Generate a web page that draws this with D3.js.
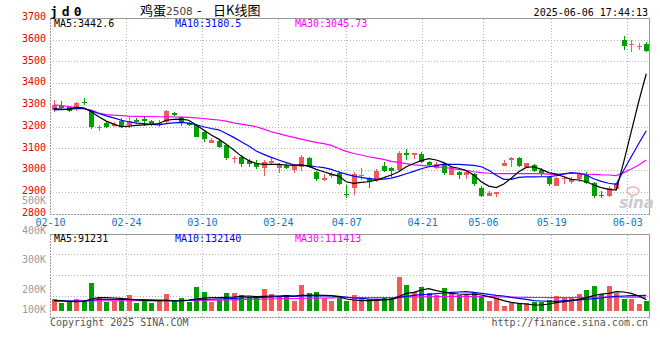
<!DOCTYPE html>
<html><head><meta charset="utf-8">
<script src="https://cdn.jsdelivr.net/npm/d3@7"></script>
<style>body{margin:0;background:#fff}svg{display:block}</style>
</head><body>
<script>
const dates = ["02-10","02-11","02-12","02-13","02-14","02-17","02-18","02-19","02-20","02-21","02-24","02-25","02-26","02-27","02-28",
"03-03","03-04","03-05","03-06","03-07","03-10","03-11","03-12","03-13","03-14","03-17","03-18","03-19","03-20","03-21","03-24","03-25","03-26","03-27","03-28","03-31",
"04-01","04-02","04-03","04-07","04-08","04-09","04-10","04-11","04-14","04-15","04-16","04-17","04-18","04-21","04-22","04-23","04-24","04-25","04-28","04-29","04-30",
"05-06","05-07","05-08","05-09","05-12","05-13","05-14","05-15","05-16","05-19","05-20","05-21","05-22","05-23","05-26","05-27","05-28","05-29","05-30",
"06-03","06-04","06-05","06-06"];
const open  = [3275,3294,3288,3283,3314,3272,3195,3214,3202,3226,3207,3229,3234,3226,3214,3222,3260,3245,3217,3207,3176,3122,3135,3115,3051,3061,3043,3034,3007,3034,3007,3023,3000,3015,3056,2992,2954,2972,2985,2890,2916,2974,2963,2951,3020,3008,3000,3080,3067,3073,3038,3007,3023,2977,2992,2977,2981,2916,2882,2888,3020,3046,3056,3012,3023,3000,2966,2928,2958,2946,2957,2977,2942,2885,2882,2912,3600,3577,3569,3578];
const close = [3298,3287,3272,3306,3306,3199,3199,3196,3210,3199,3226,3219,3226,3206,3218,3272,3254,3222,3206,3153,3141,3137,3104,3053,3055,3027,3027,3012,3038,3041,3027,3011,3020,3058,3015,2958,2965,2981,2935,2885,2981,2977,2943,2997,2995,2995,3080,3069,3080,3038,3023,3027,2985,3015,2977,2992,2935,2882,2893,2900,3034,3054,3018,3030,2997,2981,2935,2965,2962,2958,2981,2942,2882,2881,2916,2939,3569,3580,3572,3548];
const high  = [3321,3317,3290,3314,3332,3275,3207,3222,3222,3237,3242,3237,3245,3228,3229,3278,3266,3248,3222,3211,3184,3145,3140,3117,3066,3069,3049,3046,3046,3058,3034,3030,3027,3069,3061,2997,2981,2992,2997,2931,2992,3007,2969,3003,3038,3015,3089,3096,3080,3084,3043,3038,3030,3018,2997,3000,2988,2926,2905,2900,3046,3058,3061,3034,3027,3008,2972,2969,2972,2966,2992,2992,2946,2905,2926,2942,3615,3597,3582,3588];
const low   = [3268,3275,3265,3272,3298,3188,3180,3194,3199,3191,3191,3214,3202,3204,3196,3214,3248,3202,3202,3150,3130,3122,3100,3047,3034,3015,3015,3003,2972,3023,2988,3006,2988,2997,3008,2951,2951,2962,2931,2870,2885,2954,2919,2946,2989,2969,2997,3046,3049,3034,3015,3003,2977,2977,2958,2958,2926,2877,2882,2874,3020,3015,3015,3007,2992,2969,2928,2928,2935,2935,2946,2935,2873,2870,2877,2912,3554,3543,3554,3543];
const ma5  = [3282,3280,3279,3288,3286,3268,3245,3225,3211,3199,3202,3205,3208,3210,3214,3229,3233,3234,3229,3207,3184,3161,3142,3119,3092,3064,3043,3030,3026,3026,3026,3023,3021,3024,3018,3003,2992,2981,2972,2946,2939,2943,2946,2954,2965,2977,2992,3015,3030,3043,3052,3046,3034,3015,3008,2997,2977,2946,2926,2919,2936,2962,2992,3012,3015,3003,2988,2981,2969,2957,2954,2946,2931,2919,2911,2908,3037,3177,3315,3442.6];
const ma10 = [3277,3278,3280,3282,3282,3272,3260,3249,3240,3229,3222,3216,3213,3210,3208,3213,3217,3219,3216,3208,3199,3191,3185,3168,3150,3130,3110,3087,3072,3058,3046,3034,3024,3021,3020,3015,3011,3003,2991,2981,2972,2966,2960,2957,2958,2963,2972,2983,2994,3006,3015,3020,3027,3026,3026,3024,3021,3015,2999,2976,2957,2957,2966,2968,2968,2969,2969,2974,2981,2988,2985,2977,2960,2948,2939,2934,2999,3061,3122,3180.5];
const ma30 = [3300,3296,3292,3287,3283,3276,3262,3255,3252,3250,3248,3247,3246,3246,3245,3245,3244,3243,3242,3240,3237,3233,3230,3225,3217,3211,3205,3199,3188,3176,3167,3158,3150,3142,3134,3127,3121,3113,3099,3086,3076,3069,3061,3055,3049,3040,3035,3029,3024,3021,3018,3015,3012,3007,3003,2998,2992,2988,2985,2983,2983,2983,2983,2983,2983,2983,2981,2980,2983,2985,2983,2981,2980,2978,2977,2974,2988,3005,3023,3045.73];
const volume = [96000,66000,80000,96000,88000,226000,112000,74000,80000,106000,128000,66000,88000,66000,88000,138000,82000,104000,74000,192000,154000,74000,86000,146000,146000,128000,112000,120000,176000,138000,120000,128000,82000,210000,146000,154000,102000,82000,102000,80000,128000,94000,94000,88000,106000,102000,272000,208000,154000,190000,142000,128000,184000,142000,128000,128000,154000,114000,82000,102000,40000,66000,58000,62000,74000,74000,88000,120000,102000,102000,138000,168000,200000,136000,200000,146000,96000,96000,56000,80000];
const volMa5 = [85000,83000,77000,75000,77000,96000,107000,107000,104000,101000,93000,88000,85000,83000,83000,85000,80000,83000,88000,96000,104000,107000,107000,109000,112000,117000,120000,115000,117000,120000,120000,123000,120000,125000,125000,128000,125000,123000,115000,96000,88000,83000,83000,85000,88000,93000,115000,141000,149000,168000,179000,163000,152000,141000,136000,133000,136000,128000,115000,101000,83000,69000,61000,56000,48000,48000,56000,67000,75000,83000,93000,107000,123000,136000,141000,155000,152000,141000,120000,91231];
const volMa10 = [80000,80000,80000,80000,80000,84000,93000,93000,93000,93000,93000,92000,91000,90000,88000,85000,83000,83000,85000,90000,93000,94000,96000,99000,101000,104000,107000,107000,109000,112000,115000,117000,117000,120000,120000,120000,120000,120000,117000,112000,104000,101000,96000,93000,93000,93000,109000,117000,125000,131000,133000,139000,144000,149000,152000,155000,149000,141000,133000,125000,120000,109000,101000,93000,83000,80000,77000,77000,83000,85000,88000,93000,99000,104000,112000,117000,120000,123000,123000,125000];
const volMa30 = [80000,80000,80000,81000,81000,81000,82000,82000,82000,82000,82000,82000,82000,83000,83000,83000,83000,83000,84000,85000,86000,86000,87000,88000,89000,91000,92000,94000,95000,96000,98000,99000,100000,101000,102000,103000,104000,105000,106000,107000,107000,107000,107000,107000,108000,108000,110000,111000,112000,113000,114000,115000,116000,117000,117000,117000,116000,115000,114000,113000,112000,111000,110000,109000,108000,108000,107000,107000,107000,108000,109000,110000,111000,112000,112000,112000,111000,111000,111000,111413];
const priceTicks = [2800,2900,3000,3100,3200,3300,3400,3500,3600,3700];
const volTicks = [100000,200000,300000,400000,500000];
const dateTicks = ["02-10","02-24","03-10","03-24","04-07","04-21","05-06","05-19","06-03"];

const W = 660, H = 360;
const L = 50, R = 650;
const RED = "#f25a5a", GREEN = "#00a000";
const MONO = "'DejaVu Sans Mono', 'Liberation Mono', monospace";

const svg = d3.select("body").append("svg").attr("width", W).attr("height", H)
  .style("font-family", MONO);

const idx = d3.range(dates.length);
const xBand = d3.scaleBand().domain(idx).range([L, R]);
const xGrid = d3.scalePoint().domain(idx).range([L, R]);
const cx = i => Math.round(xBand(i) + xBand.bandwidth() / 2) + 0.5;
const y = d3.scaleLinear().domain([2800, 3700]).range([213.5, 17.8]);
const yVol = d3.scaleLinear().domain([0, 616000]).range([311, 234]);
const yVolLab = d3.scaleLinear().domain([200000, 500000]).range([292.7, 204]);
const px = v => Math.round(v) + 0.5;

const mainTop = px(y(3700)), mainBot = px(y(2800));
const volTop = 234.5, volBot = 317.5;

// ---- grids ----
const grid = svg.append("g").attr("stroke", "#b4b4b4").attr("stroke-dasharray", "1,2").attr("shape-rendering", "crispEdges");
priceTicks.filter(v => v > 2800 && v < 3700).forEach(v => {
  grid.append("line").attr("x1", L).attr("x2", R).attr("y1", px(y(v))).attr("y2", px(y(v)));
});
dateTicks.slice(1).forEach(d => {
  const x = px(xGrid(dates.indexOf(d)));
  grid.append("line").attr("x1", x).attr("x2", x).attr("y1", mainTop).attr("y2", mainBot + 3);
  grid.append("line").attr("x1", x).attr("x2", x).attr("y1", volTop).attr("y2", volBot + 3);
});
[0.25, 0.5, 0.75].forEach(f => {
  const yy = px(volTop + (volBot - volTop) * f - 1);
  grid.append("line").attr("x1", L).attr("x2", R).attr("y1", yy).attr("y2", yy);
});

// ---- frames ----
function frame(t, b) {
  const g = svg.append("g").attr("stroke", "#9a9a9a").attr("shape-rendering", "crispEdges").attr("fill", "none");
  g.append("line").attr("x1", L).attr("x2", R).attr("y1", t).attr("y2", t);
  g.append("line").attr("x1", R - 0.5).attr("x2", R - 0.5).attr("y1", t).attr("y2", b);
  g.append("line").attr("x1", L).attr("x2", R).attr("y1", b).attr("y2", b).attr("stroke-dasharray", "2,1");
  g.append("line").attr("x1", L + 0.5).attr("x2", L + 0.5).attr("y1", t).attr("y2", b).attr("stroke-dasharray", "2,1");
}
frame(mainTop, mainBot);
frame(volTop, volBot);

// ---- watermark ----
const wm = svg.append("g");
wm.append("ellipse").attr("cx", 633).attr("cy", 191).attr("rx", 6).attr("ry", 4)
  .attr("fill", "none").attr("stroke", "#f3b3b3").attr("stroke-width", 1.5);
wm.append("text").attr("x", 619).attr("y", 208).text("sina")
  .attr("font-family", "'DejaVu Sans', sans-serif").attr("font-weight", "bold").attr("font-style", "italic")
  .attr("font-size", 15).attr("fill", "#cbcbcb");

// ---- candles ----
const bw = 5;
const cg = svg.append("g").attr("shape-rendering", "crispEdges");
idx.forEach(i => {
  const up = close[i] >= open[i];
  const col = up ? RED : GREEN;
  const x = cx(i);
  cg.append("line").attr("x1", x).attr("x2", x).attr("y1", y(high[i])).attr("y2", y(low[i])).attr("stroke", col);
  const top = y(Math.max(open[i], close[i])), bot = y(Math.min(open[i], close[i]));
  cg.append("rect").attr("x", x - 0.5 - Math.floor(bw / 2)).attr("width", bw)
    .attr("y", top).attr("height", Math.max(1, bot - top)).attr("fill", col);
});

// ---- MA lines ----
function maLine(arr, sc, color) {
  svg.append("path").datum(idx)
    .attr("d", d3.line().x(i => xBand(i) + xBand.bandwidth() / 2).y(i => sc(arr[i])))
    .attr("fill", "none").attr("stroke", color).attr("stroke-width", 1.2);
}
maLine(ma30, y, "#ff00ff");
maLine(ma10, y, "#0000ff");
maLine(ma5, y, "#000000");

// ---- volume ----
const vg = svg.append("g").attr("shape-rendering", "crispEdges");
idx.forEach(i => {
  const col = close[i] >= open[i] ? RED : GREEN;
  const x = cx(i);
  vg.append("rect").attr("x", x - 0.5 - Math.floor(bw / 2)).attr("width", bw)
    .attr("y", yVol(volume[i])).attr("height", yVol(0) - yVol(volume[i])).attr("fill", col);
});
maLine(volMa30, yVol, "#ff00ff");
maLine(volMa10, yVol, "#0000ff");
maLine(volMa5, yVol, "#000000");

// ---- axes labels ----
const pAxis = svg.append("g").attr("transform", `translate(${L - 4},0)`)
  .call(d3.axisLeft(y).tickValues(priceTicks).tickSize(0).tickPadding(0).tickFormat(d3.format("d")));
pAxis.select(".domain").remove();
pAxis.selectAll("text").attr("fill", "#e80000").attr("font-family", MONO).attr("font-size", 10)
  .attr("dy", null).attr("y", 1.8);

const dAxis = svg.append("g").attr("transform", `translate(0,${mainBot})`)
  .call(d3.axisBottom(xGrid).tickValues(dateTicks.map(d => dates.indexOf(d))).tickSize(0).tickFormat(i => dates[i]));
dAxis.select(".domain").remove();
dAxis.selectAll("text").attr("fill", "#0a78c8").attr("font-family", MONO).attr("font-size", 10)
  .attr("dy", null).attr("y", 11);

svg.append("g").selectAll("text").data(volTicks).join("text")
  .attr("x", L - 4).attr("text-anchor", "end")
  .attr("y", d => Math.min(yVolLab(d) + (d === 400000 ? 0.8 : 0), 312.7))
  .attr("fill", "#9a9a9a").attr("font-size", 10).text(d => (d / 1000) + "K");

// ---- texts ----
svg.append("text").attr("x", 50).attr("y", 16).attr("font-size", 13).attr("font-weight", "bold")
  .attr("letter-spacing", 4).attr("fill", "#000").text("jd0");
const title = svg.append("text").attr("y", 15)
  .attr("font-family", "'Noto Sans CJK SC', sans-serif").attr("font-size", 13).attr("fill", "#000");
title.append("tspan").attr("x", 140).text("鸡蛋");
title.append("tspan").attr("font-size", 10.5).attr("fill", "#444").attr("font-family", "'DejaVu Sans', sans-serif").text("2508");
title.append("tspan").attr("x", 197).text("-");
title.append("tspan").attr("x", 213).text("日K线图");
svg.append("text").attr("x", 648).attr("y", 16).attr("text-anchor", "end").attr("font-size", 10)
  .attr("fill", "#000").text("2025-06-06 17:44:13");

const fmt = v => v.toString();
const maLab = [
  {x: 54, t: "MA5:" + fmt(ma5[79]), c: "#000"},
  {x: 175, t: "MA10:" + fmt(ma10[79]), c: "#0000ff"},
  {x: 295, t: "MA30:" + fmt(ma30[79]), c: "#ff00ff"}
];
maLab.forEach(d => svg.append("text").attr("x", d.x).attr("y", 27.3).attr("font-size", 10).attr("fill", d.c).text(d.t));
const vLab = [
  {x: 54, t: "MA5:91231", c: "#000"},
  {x: 175, t: "MA10:132140", c: "#0000ff"},
  {x: 295, t: "MA30:" + volMa30[79], c: "#ff00ff"}
];
vLab.forEach(d => svg.append("text").attr("x", d.x).attr("y", 242.3).attr("font-size", 10).attr("fill", d.c).text(d.t));

svg.append("text").attr("x", 50).attr("y", 326).attr("font-size", 10).attr("fill", "#555").text("Copyright 2025 SINA.COM");
svg.append("text").attr("x", 648).attr("y", 326).attr("text-anchor", "end").attr("font-size", 10).attr("fill", "#555").text("http://finance.sina.com.cn");
</script>
</body></html>
